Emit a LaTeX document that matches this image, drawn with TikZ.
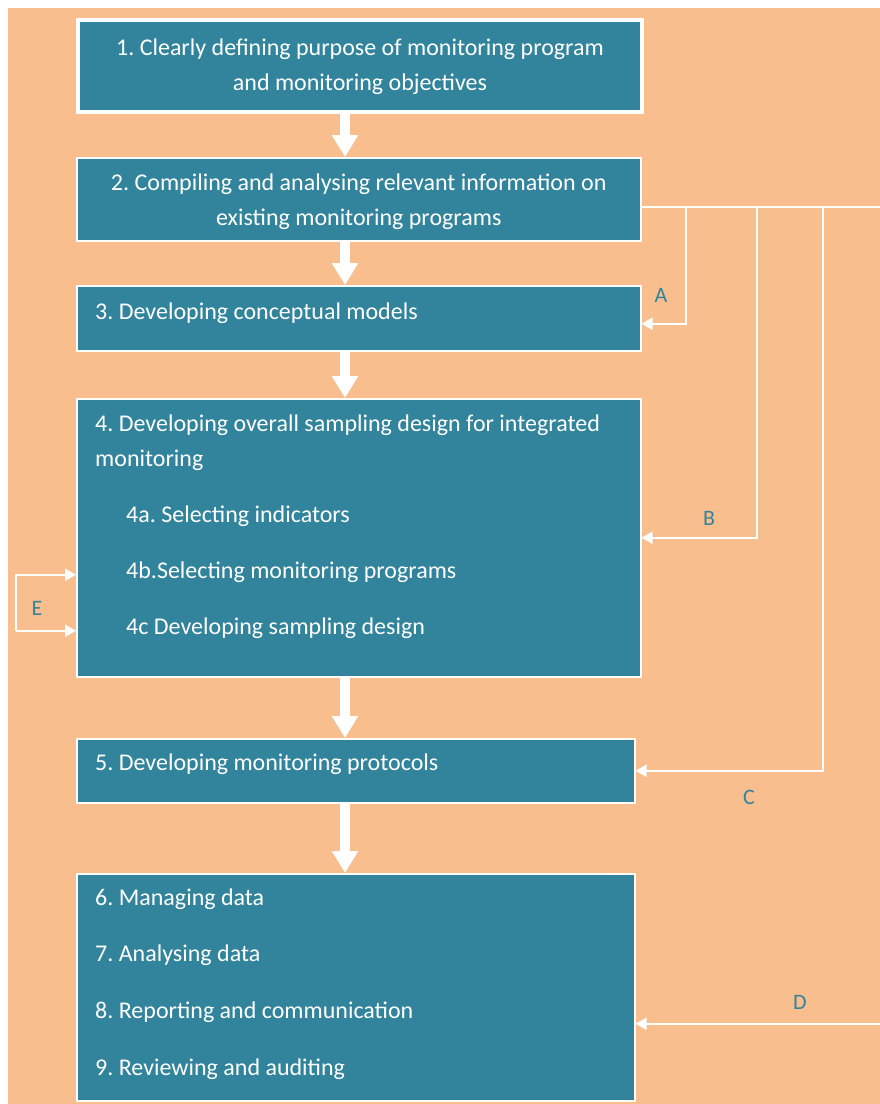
\documentclass[tikz,border=0pt]{standalone}
\usepackage{fontspec}
\setmainfont{Carlito}
\usetikzlibrary{arrows.meta}

\definecolor{bgorange}{HTML}{F8BE8E}
\definecolor{boxteal}{HTML}{31849B}

\tikzset{
  stage/.style={draw=white, line width=1.5pt, fill=boxteal, anchor=north west, inner sep=0pt},
  stagetext/.style={text=white, font=\fontsize{24}{35}\selectfont, inner sep=0pt},
  flow/.style={white, line width=10pt, -{Triangle[width=25pt,length=22pt]}},
  back/.style={white, line width=2pt, -{Triangle[width=12pt,length=11pt]}},
  letter/.style={text=boxteal, font=\fontsize{22}{24}\selectfont}
}

\begin{document}
\frenchspacing
\begin{tikzpicture}[x=1pt, y=-1pt]
  \useasboundingbox (0,0) rectangle (880,1104);
  \fill[bgorange] (8,8) rectangle (880,1104);

  % the stages
  \node[stage, line width=4pt, minimum width=564pt, minimum height=92pt] (s1) at (76,18) {};
  \node[stage, minimum width=564pt, minimum height=83pt] (s2) at (76,157) {};
  \node[stage, minimum width=564pt, minimum height=65pt] (s3) at (76,285) {};
  \node[stage, minimum width=564pt, minimum height=278pt] (s4) at (76,398) {};
  \node[stage, minimum width=558pt, minimum height=64pt] (s5) at (76,738) {};
  \node[stage, minimum width=558pt, minimum height=227pt] (s6) at (76,873) {};

  \node[stagetext, align=center] (t1) at ([yshift=-1pt]s1.center) {1. Clearly defining purpose of monitoring program\\and monitoring objectives};
  \node[stagetext, align=center] (t2) at ([yshift=-2pt]s2.center) {2. Compiling and analysing relevant information on\\existing monitoring programs};
  \node[stagetext, anchor=west] (t3) at (95,313) {3. Developing conceptual models};
  \node[stagetext, anchor=west] (t4) at (95,425) {4. Developing overall sampling design for integrated};
  \node[stagetext, anchor=west] (t4m) at (95,460) {monitoring};
  \node[stagetext, anchor=west] (t4a) at (126,516) {4a. Selecting indicators};
  \node[stagetext, anchor=west] (t4b) at (126,572) {4b.Selecting monitoring programs};
  \node[stagetext, anchor=west] (t4c) at (126,628) {4c Developing sampling design};
  \node[stagetext, anchor=west] (t5) at (95,764) {5. Developing monitoring protocols};
  \foreach \txt [count=\i] in {6. Managing data, 7. Analysing data,
      8. Reporting and communication, 9. Reviewing and auditing}
    \node[stagetext, anchor=west] (t6-\i) at (95,{899+56.7*(\i-1)}) {\txt};

  % main flow
  \coordinate (mid) at (345,0);
  \foreach \a/\b in {s1/s2, s2/s3, s3/s4, s4/s5, s5/s6}
    \draw[flow] (mid |- \a.south) -- (mid |- \b.north);

  % feedback loops
  \coordinate (fb) at ([yshift=-8pt]s2.east);
  \coordinate (rim) at (880,0);
  \coordinate (colA) at (686,0);
  \coordinate (colB) at (757,0);
  \coordinate (colC) at (823,0);
  \draw[white, line width=2pt] (fb) -- (fb -| rim);
  \draw[back] (fb -| colA) |- ([yshift=-5.5pt]s3.east);
  \draw[back] (fb -| colB) |- (s4.east);
  \draw[back] (fb -| colC) |- (s5.east);
  \coordinate (d) at ([yshift=-36.5pt]s6.east);
  \draw[back] (d -| rim) -- (d);

  \coordinate (e1) at ([yshift=-37pt]s4.west);
  \coordinate (e2) at ([yshift=-93pt]s4.west);
  \coordinate (colE) at (16,0);
  \draw[back] (colE |- e2) |- (e1);
  \draw[back] (colE |- e2) -- (e2);

  \node[letter] (lA) at (661,295) {A};
  \node[letter] (lB) at (709,518) {B};
  \node[letter] (lC) at (749,797) {C};
  \node[letter] (lD) at (800,1002) {D};
  \node[letter] (lE) at (37,608) {E};
\end{tikzpicture}
\end{document}
